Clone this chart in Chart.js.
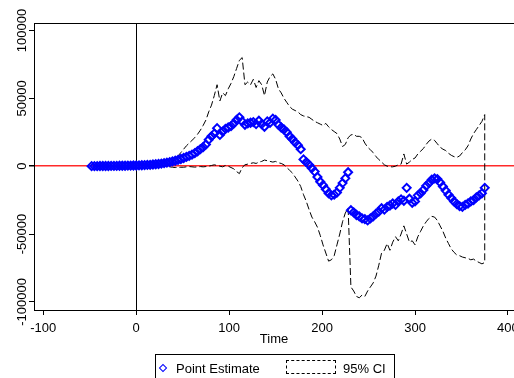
<!DOCTYPE html>
<html lang="en">
<head>
<meta charset="UTF-8">
<title>Point Estimate and 95% CI</title>
<script src="https://cdn.jsdelivr.net/npm/chart.js"></script>
<style>
  body { margin: 0; background: #fff; overflow: hidden; }
  .wrap { position: relative; width: 514px; height: 378px; }
  .legend {
    position: absolute; left: 155px; top: 354px; width: 240px; height: 30px;
    border: 1px solid #000; box-sizing: border-box;
    font: 13px Arial, "Liberation Sans", sans-serif; color: #000;
  }
  .legend span { position: absolute; top: 6px; white-space: nowrap; }
  .diamond {
    position: absolute; left: 4px; top: 10px; width: 4px; height: 4px;
    border: 1.5px solid #0000ff; transform: rotate(45deg);
  }
  .dashbox {
    position: absolute; left: 130px; top: 5px; width: 50px; height: 14px;
    border: 1px dashed #000; box-sizing: border-box;
  }
</style>
</head>
<body>
<div class="wrap">
  <canvas id="chart" width="514" height="378"></canvas>
  <div class="legend">
    <div class="diamond"></div>
    <span style="left:20px">Point Estimate</span>
    <div class="dashbox"></div>
    <span style="left:187px">95% CI</span>
  </div>
</div>

<script>
// axis ticks
const xTicks = [-100, 0, 100, 200, 300, 400];
const yTicks = [-100000, -50000, 0, 50000, 100000];

// point estimate
const peTime = [-48,-45,-42,-39,-36,-33,-30,-27,-24,-21,-18,-15,-12,-9,-6,-3,0,3,6,9,12,15,18,21,24,27,30,33,36,39,42,
  45,48,51,54,57,60,63,66,69,72,75,78,81,84,87,90,93,96,99,102,105,108,111,114,117,120,123,126,129,132,
  135,138,141,144,147,150,153,156,159,162,165,168,171,174,177,180,183,186,189,192,195,198,201,204,207,210,213,216,219,222,
  225,228,231,234,237,240,243,246,249,252,255,258,261,264,267,270,273,276,279,282,285,288,291,294,297,300,303,306,309,312,
  315,318,321,324,327,330,333,336,339,342,345,348,351,354,357,360,363,366,369,372,375];
const peValue = [0,0,0,100,100,100,100,200,200,200,300,300,300,400,400,500,500,600,700,800,900,1000,1200,1400,1600,1900,2200,2600,3000,3500,4000,
  4600,5300,6000,6800,7600,8500,9600,11000,12500,14000,
  16000,19500,22000,24000,28000,23000,25500,27500,28500,29500,
  31500,34000,36000,33000,30500,31500,32000,32500,31000,33500,
  31000,29000,33000,32000,35000,34000,30500,28500,27000,25000,
  22000,20000,17500,15500,12500,5000,3000,1000,-1500,-4000,
  -8000,-11500,-14000,-17000,-20000,-21500,-21000,-19500,-16000,-12500,
  -9000,-4500,-32500,-34000,-36000,-37000,-38500,-39000,-40000,-38500,
  -37000,-35000,-33500,-31000,-32000,-30000,-29000,-27500,-28500,-26000,
  -24500,-25500,-16000,-24000,-27000,-26000,-21500,-20000,-17500,-14500,
  -12500,-10000,-9000,-9500,-12000,-15000,-18000,-21000,-23500,-26000,
  -28000,-29500,-30000,-28500,-27500,-26000,-25000,-23000,-21500,-20000,
  -16000];

// 95% confidence band
const ciTime = [36,39,42,45,48,51,54,57,60,63,66,69,72,75,78,81,84,87,90,93,96,99,102,105,108,111,114,117,120,123,
  126,129,132,135,138,141,144,147,150,153,156,159,162,165,168,171,174,177,180,183,186,189,192,195,198,201,204,207,210,213,
  216,219,222,225,228,231,234,237,240,243,246,249,252,255,258,261,264,267,270,273,276,279,282,285,288,291,294,297,300,303,
  306,309,312,315,318,321,324,327,330,333,336,339,342,345,348,351,354,357,360,363,366,369,372,375];
const ciUpper = [2000,3500,5500,7500,10000,12500,15000,17000,19000,21000,
  23500,26500,30000,34000,40000,45000,52000,60000,48000,54000,
  52000,57000,61000,66000,72000,78000,80000,60000,62000,60000,
  64000,58000,63000,60000,52000,62000,66000,68000,64000,57000,
  54000,50000,47000,44000,42000,41000,40000,38000,37000,36500,
  36000,34500,33000,32000,31000,30000,31500,29000,27000,25500,
  24000,20000,14500,16000,21000,23000,23500,22000,22000,21000,
  17000,14000,12000,10000,7000,5000,3000,1000,0,-500,
  -500,0,1000,1500,9000,1500,3000,5000,6000,9000,
  11000,13000,16000,18500,20000,19000,16500,14000,12500,11500,
  9500,8000,7000,6500,7500,10000,12000,15000,20000,24000,
  27000,30000,33000,38000];
const ciLower = [-500,-800,-1000,-1000,-800,-800,-500,-300,-500,-700,
  -500,-300,-500,-300,0,500,1000,500,0,-500,
  500,0,-1000,-2000,-4000,-5500,-1000,1000,1500,2000,
  2500,2000,3000,3500,4500,4000,3500,3000,3500,2500,
  2000,1000,-1000,-3000,-5000,-8000,-11000,-15000,-21000,-26000,
  -32000,-37500,-41000,-45000,-51000,-58000,-64000,-70000,-69000,-66000,
  -58000,-50000,-41000,-34500,-31000,-89000,-92000,-96000,-97000,-95000,
  -96000,-92000,-89000,-86000,-81000,-73000,-64000,-62000,-57000,-62000,
  -56000,-52000,-55000,-50000,-44000,-50000,-56000,-55000,-58000,-52000,
  -48000,-44000,-41000,-38500,-37000,-37500,-40000,-44000,-48000,-53000,
  -57000,-61000,-63500,-65500,-66000,-67000,-67500,-68000,-69000,-68500,
  -70000,-71000,-72000,-71000];

const FONT = 'Arial, "Liberation Sans", sans-serif';

const pePoints = peTime.map((t, i) => ({x: t, y: peValue[i]}));
// band outline: upper forward, lower back, closed
const ciPoints = ciTime.map((t, i) => ({x: t, y: ciUpper[i]}));
for (let i = ciTime.length - 1; i >= 0; i--) ciPoints.push({x: ciTime[i], y: ciLower[i]});
ciPoints.push(ciPoints[0]);

// frame top + rotated y tick labels
const extras = {
  id: 'extras',
  afterDraw(chart) {
    const {ctx, chartArea, scales} = chart;
    ctx.save();
    ctx.strokeStyle = '#000';
    ctx.lineWidth = 1;
    ctx.beginPath();
    ctx.moveTo(chartArea.left, chartArea.top + 0.5);
    ctx.lineTo(chartArea.right, chartArea.top + 0.5);
    ctx.stroke();
    ctx.fillStyle = '#000';
    ctx.font = '13px ' + FONT;
    ctx.textAlign = 'center';
    ctx.textBaseline = 'middle';
    yTicks.forEach(v => {
      ctx.save();
      ctx.translate(22, scales.y.getPixelForValue(v));
      ctx.rotate(-Math.PI / 2);
      ctx.fillText(String(v), 0, 0);
      ctx.restore();
    });
    ctx.restore();
  }
};

new Chart(document.getElementById('chart'), {
  type: 'scatter',
  data: {
    datasets: [{
      label: 'Point Estimate',
      data: pePoints,
      showLine: false,
      pointStyle: 'rectRot',
      pointRadius: 4,
      pointBorderWidth: 2,
      borderColor: '#0000ff',
      backgroundColor: 'rgba(0,0,0,0)'
    }, {
      label: '95% CI',
      data: ciPoints,
      showLine: true,
      pointRadius: 0,
      borderColor: '#000',
      borderWidth: 1,
      borderDash: [7, 3],
      fill: false
    }]
  },
  options: {
    responsive: false,
    animation: false,
    layout: { autoPadding: false, padding: { top: 23, right: 0, bottom: 24, left: 0 } },
    plugins: { legend: { display: false }, tooltip: { enabled: false } },
    scales: {
      x: {
        type: 'linear',
        min: -110,
        max: 406.5,
        afterBuildTicks: s => { s.ticks = xTicks.map(v => ({value: v})); },
        afterFit: s => { s.height = 44; s.paddingLeft = 0; s.paddingRight = 0; },
        grid: {
          color: c => c.tick && c.tick.value === 0 ? '#000' : 'rgba(0,0,0,0)',
          tickColor: '#000',
          tickLength: 5,
          lineWidth: 1
        },
        border: { display: true, color: '#000', width: 1 },
        ticks: { color: '#000', font: { size: 13, family: FONT }, padding: 6, maxRotation: 0 },
        title: { display: true, text: 'Time', color: '#000', font: { size: 13, family: FONT }, padding: { top: 0, bottom: 7 } }
      },
      y: {
        type: 'linear',
        min: -106000,
        max: 105500,
        afterBuildTicks: s => { s.ticks = yTicks.map(v => ({value: v})); },
        afterFit: s => { s.width = 34; s.paddingTop = 0; s.paddingBottom = 0; },
        grid: {
          color: c => c.tick && c.tick.value === 0 ? '#ff2a2a' : 'rgba(0,0,0,0)',
          lineWidth: c => c.tick && c.tick.value === 0 ? 1.5 : 1,
          tickColor: '#000',
          tickLength: 5
        },
        border: { display: true, color: '#000', width: 1 },
        ticks: { display: false }
      }
    }
  },
  plugins: [extras]
});
</script>
</body>
</html>
